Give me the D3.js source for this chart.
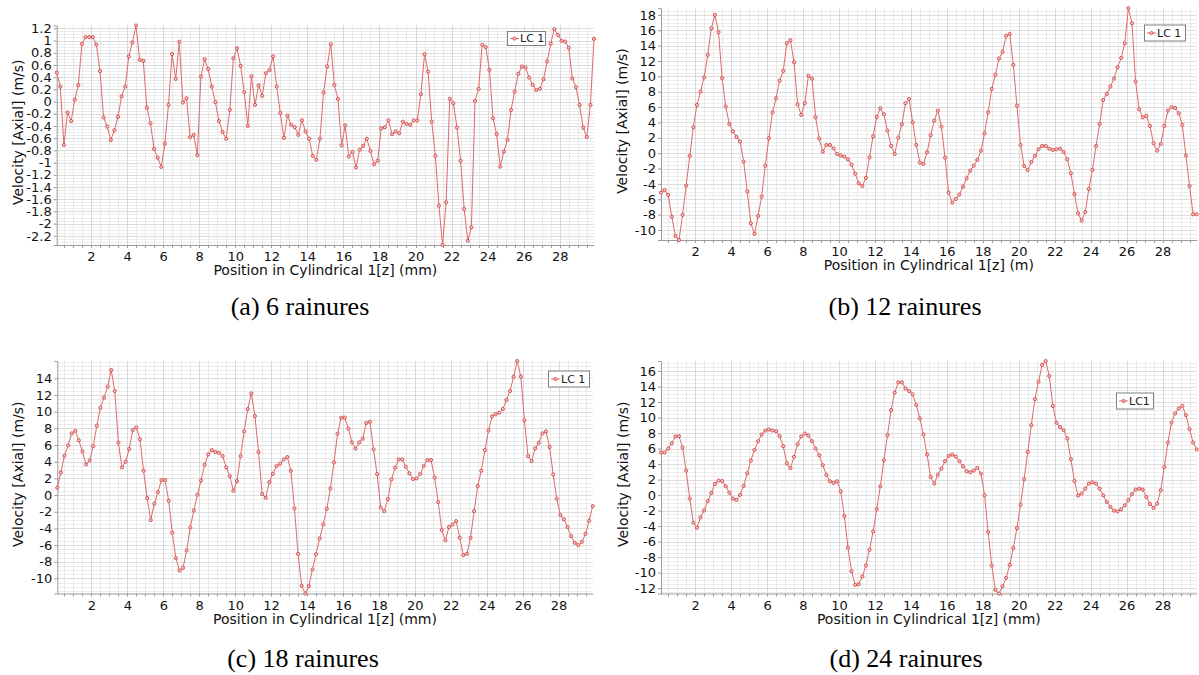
<!DOCTYPE html>
<html>
<head>
<meta charset="utf-8">
<script src="https://cdn.jsdelivr.net/npm/d3@7"></script>
<style>
  html, body { margin: 0; padding: 0; background: #fff; }
  svg { display: block; }
</style>
</head>
<body>
<svg id="chart" width="1199" height="675"></svg>
<script>
// ---------------- DATA ----------------
const positionMm = [
  0.1,0.3,0.5,0.7,0.9,1.1,1.3,1.5,1.7,1.9,
  2.1,2.3,2.5,2.7,2.9,3.1,3.3,3.5,3.7,3.9,
  4.1,4.3,4.5,4.7,4.9,5.1,5.3,5.5,5.7,5.9,
  6.1,6.3,6.5,6.7,6.9,7.1,7.3,7.5,7.7,7.9,
  8.1,8.3,8.5,8.7,8.9,9.1,9.3,9.5,9.7,9.9,
  10.1,10.3,10.5,10.7,10.9,11.1,11.3,11.5,11.7,11.9,
  12.1,12.3,12.5,12.7,12.9,13.1,13.3,13.5,13.7,13.9,
  14.1,14.3,14.5,14.7,14.9,15.1,15.3,15.5,15.7,15.9,
  16.1,16.3,16.5,16.7,16.9,17.1,17.3,17.5,17.7,17.9,
  18.1,18.3,18.5,18.7,18.9,19.1,19.3,19.5,19.7,19.9,
  20.1,20.3,20.5,20.7,20.9,21.1,21.3,21.5,21.7,21.9,
  22.1,22.3,22.5,22.7,22.9,23.1,23.3,23.5,23.7,23.9,
  24.1,24.3,24.5,24.7,24.9,25.1,25.3,25.5,25.7,25.9,
  26.1,26.3,26.5,26.7,26.9,27.1,27.3,27.5,27.7,27.9,
  28.1,28.3,28.5,28.7,28.9,29.1,29.3,29.5,29.7,29.9
];

const velocity6 = [
  0.475,0.246,-0.71,-0.18,-0.32,0.03,0.27,0.945,1.055,1.055,
  1.055,0.934,0.50,-0.26,-0.41,-0.63,-0.47,-0.25,0.087,0.246,
  0.74,0.97,1.246,0.683,0.67,-0.10,-0.355,-0.776,-0.92,-1.07,
  -0.69,-0.055,0.78,0.37,0.98,-0.016,0.055,-0.585,-0.546,-0.88,
  0.41,0.694,0.535,0.246,-0.01,-0.32,-0.50,-0.61,-0.137,0.71,
  0.874,0.585,0.153,-0.40,0.415,-0.055,0.268,0.093,0.464,0.514,
  0.74,0.246,-0.186,-0.596,-0.23,-0.38,-0.42,-0.546,-0.306,-0.49,
  -0.61,-0.89,-0.956,-0.61,0.148,0.574,0.94,0.273,0.044,-0.72,
  -0.39,-0.90,-0.825,-1.08,-0.79,-0.727,-0.61,-0.81,-1.027,-0.97,
  -0.437,-0.42,-0.306,-0.535,-0.49,-0.52,-0.33,-0.366,-0.38,-0.31,
  -0.31,0.12,0.776,0.49,-0.33,-0.89,-1.705,-2.35,-1.65,0.044,
  -0.027,-0.426,-0.97,-1.76,-2.28,-2.06,0.011,0.208,0.93,0.89,
  0.52,-0.273,-0.535,-1.066,-0.82,-0.628,-0.137,0.164,0.454,0.574,
  0.557,0.393,0.273,0.19,0.208,0.366,0.656,0.95,1.186,1.093,
  0.995,0.984,0.88,0.38,0.235,-0.055,-0.426,-0.58,-0.055,1.027
];

const velocity12 = [
  -5.13,-4.79,-5.44,-8.26,-10.78,-11.3,-8.04,-4.22,-0.36,3.37,
  6.28,8.02,9.88,12.79,16.26,18.0,15.74,9.75,6.06,3.81,
  2.85,2.11,1.51,-1.10,-5.0,-9.13,-10.52,-8.17,-5.65,-1.62,
  1.94,5.33,7.15,9.45,10.71,14.31,14.70,11.84,6.37,4.98,
  6.50,10.06,9.71,4.68,1.90,0.20,1.07,1.07,0.63,-0.10,
  -0.32,-0.45,-0.80,-1.49,-2.66,-3.92,-4.27,-3.22,-0.53,2.20,
  4.72,5.85,5.07,2.94,0.95,-0.10,2.03,3.76,6.50,7.06,
  4.02,1.07,-1.23,-1.40,0.12,2.33,4.24,5.54,3.46,-0.58,
  -5.13,-6.44,-5.96,-5.39,-4.35,-3.27,-2.27,-1.62,-0.88,0.33,
  2.59,5.33,8.37,10.19,12.31,13.18,15.27,15.53,11.49,6.19,
  1.07,-1.66,-2.18,-1.14,-0.36,0.51,0.94,0.94,0.59,0.42,
  0.51,0.59,0.16,-0.80,-2.62,-5.31,-7.82,-8.78,-7.65,-4.66,
  -2.18,0.94,3.81,6.93,7.72,8.67,9.71,11.19,12.40,14.31,
  18.87,16.91,9.32,5.72,4.68,4.85,3.55,1.29,0.33,1.20,
  3.55,5.54,5.98,5.89,5.20,3.68,-0.32,-4.27,-7.96,-7.96
];

const velocity18 = [
  0.88,2.72,4.72,5.96,7.40,7.72,6.56,5.24,3.68,4.16,
  5.88,8.32,10.48,11.68,13.0,15.0,12.48,6.28,3.32,4.0,
  5.52,7.80,8.12,6.68,2.92,-0.36,-3.0,-1.04,0.36,1.80,
  1.80,-0.68,-4.52,-7.56,-9.04,-8.72,-6.64,-3.88,-1.84,0.04,
  1.76,3.64,4.88,5.40,5.16,5.08,4.68,3.32,2.28,0.52,
  1.68,4.68,7.64,10.32,12.20,9.48,5.16,0.12,-0.32,1.56,
  2.56,3.48,3.76,4.28,4.56,2.92,-1.60,-7.04,-10.88,-11.8,
  -10.92,-8.92,-7.08,-5.20,-3.52,-1.64,0.80,3.92,7.36,9.28,
  9.28,7.96,6.32,5.56,6.32,6.76,8.64,8.80,5.48,2.52,
  -1.48,-1.92,-0.48,1.88,3.28,4.28,4.28,3.40,2.60,1.92,
  2.0,2.52,3.52,4.20,4.20,2.12,-0.84,-4.20,-5.44,-3.84,
  -3.52,-3.12,-5.12,-7.20,-7.04,-5.12,-1.92,1.08,2.92,5.40,
  7.76,9.44,9.72,9.88,10.32,11.40,12.48,14.20,16.08,14.20,
  8.96,4.68,4.08,5.60,6.28,7.40,7.64,5.76,2.48,-0.44,
  -2.40,-2.92,-3.84,-4.92,-5.72,-6.0,-5.60,-4.64,-3.08,-1.32
];

const velocity24 = [
  5.49,5.49,6.0,6.69,7.56,7.60,6.13,3.16,-0.46,-3.56,
  -4.21,-2.87,-1.97,-0.76,0.27,1.44,1.87,1.82,1.14,0.32,
  -0.46,-0.63,0.03,1.18,2.82,4.45,5.83,6.95,7.81,8.33,
  8.46,8.33,8.24,7.60,6.31,4.07,3.46,4.93,6.56,7.56,
  7.94,7.68,6.95,6.0,5.14,3.85,2.60,1.78,1.57,1.78,
  0.49,-2.70,-6.79,-9.81,-11.57,-11.49,-10.50,-9.08,-7.05,-4.68,
  -1.84,1.14,4.50,7.73,10.96,13.20,14.54,14.54,13.76,13.41,
  12.98,11.61,9.88,7.81,5.23,2.34,1.48,2.64,3.42,4.37,
  5.06,5.23,4.97,4.37,3.72,3.07,2.95,3.16,3.51,2.77,
  -0.03,-4.77,-9.08,-12.22,-12.69,-11.75,-10.67,-8.99,-6.83,-4.25,
  -1.23,2.04,5.57,9.02,12.38,14.62,16.78,17.29,15.35,11.48,
  9.32,8.76,8.37,7.30,4.63,1.82,-0.07,0.19,0.83,1.48,
  1.65,1.48,0.83,-0.03,-0.89,-1.54,-2.01,-2.10,-1.84,-1.32,
  -0.67,0.11,0.71,0.83,0.71,-0.24,-1.15,-1.66,-1.10,0.62,
  3.63,6.78,9.36,10.53,11.17,11.52,10.31,8.50,6.78,5.88
];

const xTickLabels = [2,4,6,8,10,12,14,16,18,20,22,24,26,28];
const yTicks6  = [-2.2,-2,-1.8,-1.6,-1.4,-1.2,-1,-0.8,-0.6,-0.4,-0.2,0,0.2,0.4,0.6,0.8,1,1.2];
const yTicks12 = [-10,-8,-6,-4,-2,0,2,4,6,8,10,12,14,16,18];
const yTicks18 = [-10,-8,-6,-4,-2,0,2,4,6,8,10,12,14];
const yTicks24 = [-12,-10,-8,-6,-4,-2,0,2,4,6,8,10,12,14,16];

const captions = ["(a) 6 rainures","(b) 12 rainures","(c) 18 rainures","(d) 24 rainures"];
const xTitles = ["Position in Cylindrical 1[z] (mm)","Position in Cylindrical 1[z] (m)",
                 "Position in Cylindrical 1[z] (mm)","Position in Cylindrical 1[z] (mm)"];
const yTitle = "Velocity [Axial] (m/s)";
const legendNames = ["LC 1","LC 1","LC 1","LC1"];

// ---------------- LAYOUT ----------------
const panels = [
  {values: velocity6,  yTicks: yTicks6,  minor: 0.05, left: 56.7, right: 594, top: 25.5, bottom: 245,
   yTitleX: 18, capX: 300, capY: 315, legend: {x: 507, y: 31, w: 38, h: 14}},
  {values: velocity12, yTicks: yTicks12, minor: 0.5, left: 661, right: 1196.7, top: 8.2, bottom: 240,
   yTitleX: 622, capX: 905, capY: 315, legend: {x: 1144, y: 24.5, w: 41, h: 16}},
  {values: velocity18, yTicks: yTicks18, minor: 0.5, left: 57.3, right: 592.7, top: 361, bottom: 593.5,
   yTitleX: 18, capX: 303, capY: 667, legend: {x: 548, y: 370.5, w: 41, h: 16}},
  {values: velocity24, yTicks: yTicks24, minor: 0.5, left: 661, right: 1196.7, top: 361, bottom: 593.5,
   yTitleX: 623, capX: 906, capY: 667, legend: {x: 1116, y: 392.5, w: 37, h: 16}}
];

const lineColor = "#e06a6a";
const markerStroke = "#cc3b3b";
const markerFill = "#f6c2c2";
const fontSans = "'DejaVu Sans', sans-serif";
const fontSerif = "'Liberation Serif', 'Times New Roman', serif";

const svg = d3.select("#chart");
svg.append("rect").attr("width", 1199).attr("height", 675).attr("fill", "#fff");

panels.forEach((p, k) => {
  const g = svg.append("g");
  const x = d3.scaleLinear().domain(d3.extent(positionMm)).range([p.left, p.right]);
  const y = d3.scaleLinear().domain(d3.extent(p.values)).range([p.bottom, p.top]);
  const [y0, y1] = y.domain();

  // grid: horizontal minor
  const hMinor = d3.range(Math.ceil(y0 / p.minor - 1e-6), Math.floor(y1 / p.minor + 1e-6) + 1).map(i => +(i * p.minor).toFixed(4));
  g.append("g").selectAll("line").data(hMinor).join("line")
    .attr("x1", p.left).attr("x2", p.right)
    .attr("y1", d => Math.round(y(d)) + 0.5).attr("y2", d => Math.round(y(d)) + 0.5)
    .attr("stroke", "#ececec").attr("stroke-width", 1);
  g.append("g").selectAll("line").data(p.yTicks).join("line")
    .attr("x1", p.left).attr("x2", p.right)
    .attr("y1", d => Math.round(y(d)) + 0.5).attr("y2", d => Math.round(y(d)) + 0.5)
    .attr("stroke", "#dcdcdc").attr("stroke-width", 1);

  // grid: vertical every 0.5
  const vMinor = d3.range(1, 60).map(i => i * 0.5).filter(v => v > x.domain()[0] && v < x.domain()[1]);
  g.append("g").selectAll("line").data(vMinor).join("line")
    .attr("y1", p.top).attr("y2", p.bottom)
    .attr("x1", d => Math.round(x(d)) + 0.5).attr("x2", d => Math.round(x(d)) + 0.5)
    .attr("stroke", d => (Math.abs(d % 2) < 1e-6 ? "#d8d8d8" : "#e8e8e8")).attr("stroke-width", 1);

  // x axis
  const xAxis = d3.axisBottom(x).tickValues(xTickLabels).tickSize(0).tickPadding(7).tickFormat(d3.format("d"));
  const xa = g.append("g").attr("transform", `translate(0,${p.bottom})`).call(xAxis);
  xa.select(".domain").attr("stroke", "#9a9a9a");
  xa.selectAll("text").attr("font-family", fontSans).attr("font-size", 13).attr("fill", "#111");
  // small ticks every 0.5
  g.append("g").selectAll("line").data(vMinor).join("line")
    .attr("x1", d => Math.round(x(d)) + 0.5).attr("x2", d => Math.round(x(d)) + 0.5)
    .attr("y1", p.bottom).attr("y2", p.bottom + 3)
    .attr("stroke", "#9a9a9a");

  // y axis
  const yAxis = d3.axisLeft(y).tickValues(p.yTicks).tickSize(3).tickPadding(2)
    .tickFormat(d => String(+d.toFixed(1)));
  const ya = g.append("g").attr("transform", `translate(${p.left},0)`).call(yAxis);
  ya.select(".domain").attr("stroke", "#9a9a9a");
  ya.selectAll(".tick line").attr("stroke", "#9a9a9a");
  ya.selectAll("text").attr("font-family", fontSans).attr("font-size", 13).attr("fill", "#111");

  // titles
  g.append("text")
    .attr("x", (p.left + p.right) / 2).attr("y", p.bottom + 30)
    .attr("text-anchor", "middle").attr("font-family", fontSans).attr("font-size", 14).attr("fill", "#111")
    .text(xTitles[k]);
  g.append("text")
    .attr("transform", `translate(${p.yTitleX},${(p.top + p.bottom) / 2 - 3}) rotate(-90)`)
    .attr("dy", "0.35em")
    .attr("text-anchor", "middle").attr("font-family", fontSans).attr("font-size", 14).attr("fill", "#111")
    .text(yTitle);

  // data line + markers
  const pts = positionMm.map((xv, i) => [xv, p.values[i]]);
  g.append("path").datum(pts)
    .attr("fill", "none").attr("stroke", lineColor).attr("stroke-width", 1)
    .attr("d", d3.line().x(d => x(d[0])).y(d => y(d[1])));
  g.append("g").selectAll("circle").data(pts).join("circle")
    .attr("cx", d => x(d[0])).attr("cy", d => y(d[1])).attr("r", 1.6)
    .attr("fill", markerFill).attr("stroke", markerStroke).attr("stroke-width", 0.8);

  // legend
  const L = p.legend;
  const lg = g.append("g");
  lg.append("rect").attr("x", L.x + 0.5).attr("y", L.y + 0.5).attr("width", L.w).attr("height", L.h)
    .attr("fill", "#fff").attr("stroke", "#808080");
  const cy = L.y + L.h / 2 + 0.5;
  lg.append("line").attr("x1", L.x + 3).attr("x2", L.x + 12).attr("y1", cy).attr("y2", cy)
    .attr("stroke", lineColor);
  lg.append("circle").attr("cx", L.x + 7.5).attr("cy", cy).attr("r", 1.6)
    .attr("fill", markerFill).attr("stroke", markerStroke).attr("stroke-width", 0.8);
  lg.append("text").attr("x", L.x + 13).attr("y", cy).attr("dy", "0.35em")
    .attr("font-family", fontSans).attr("font-size", 11).attr("fill", "#222")
    .text(legendNames[k]);

  // caption
  svg.append("text").attr("x", p.capX).attr("y", p.capY)
    .attr("text-anchor", "middle").attr("font-family", fontSerif).attr("font-size", 26).attr("fill", "#000")
    .text(captions[k]);
});
</script>
</body>
</html>
